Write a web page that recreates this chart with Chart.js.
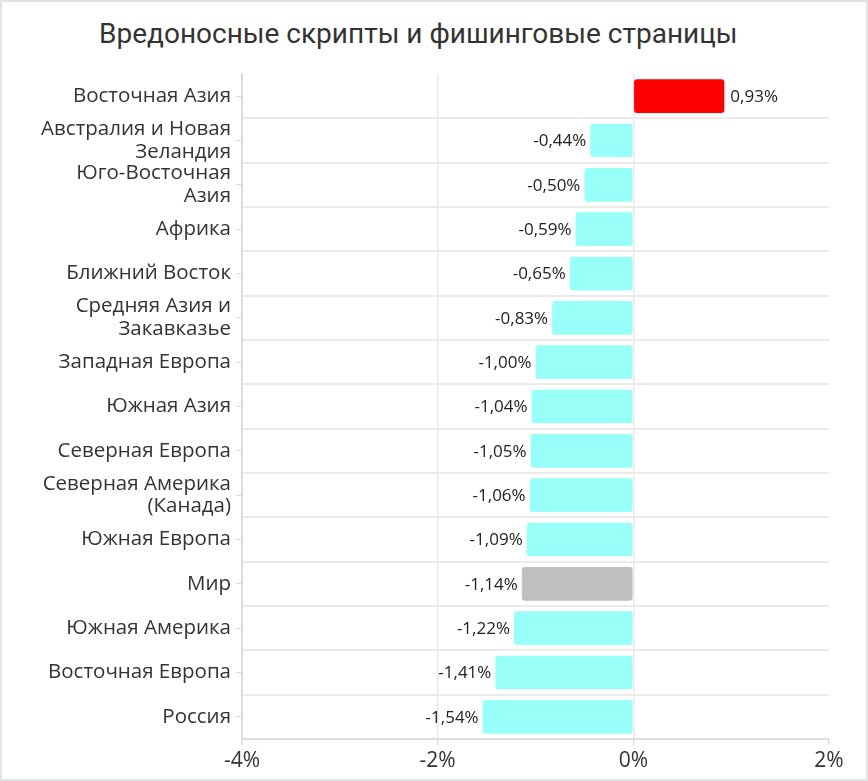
<!DOCTYPE html>
<html>
<head>
<meta charset="utf-8">
<script src="https://cdn.jsdelivr.net/npm/chart.js@4.4.1/dist/chart.umd.min.js"></script>
<style>
    html, body { margin: 0; padding: 0; background: #fff; }
    #wrap { position: relative; width: 868px; height: 781px; box-sizing: border-box; border: 2px solid #e3e3e3; }
    #titulo { position: absolute; left: 97px; top: 15px; font-family: Roboto, sans-serif; font-size: 28px; color: #333; white-space: nowrap; }
    #chartBar { position: absolute; left: 0; top: 0; }
</style>
</head>
<body>
<div id="wrap">
    <div id="titulo">Вредоносные скрипты и фишинговые страницы</div>
    <canvas id="chartBar" width="864" height="777"></canvas>
</div>
<script>
const regions = [
    'Восточная Азия',
    ['Австралия и Новая', 'Зеландия'],
    ['Юго-Восточная', 'Азия'],
    'Африка',
    'Ближний Восток',
    ['Средняя Азия и', 'Закавказье'],
    'Западная Европа',
    'Южная Азия',
    'Северная Европа',
    ['Северная Америка', '(Канада)'],
    'Южная Европа',
    'Мир',
    'Южная Америка',
    'Восточная Европа',
    'Россия'
];
const changes = [0.93, -0.44, -0.50, -0.59, -0.65, -0.83, -1.00, -1.04, -1.05, -1.06, -1.09, -1.14, -1.22, -1.41, -1.54];
const xTicks = [-4, -2, 0, 2];

const fmt = (v) => v.toFixed(2).replace('.', ',') + '%';

// rótulos de valor ao lado de cada barra
const rotulos = {
    id: 'rotulos',
    afterDatasetsDraw(chart) {
        const ctx = chart.ctx;
        const meta = chart.getDatasetMeta(0);
        ctx.save();
        ctx.font = '17px "Open Sans", sans-serif';
        ctx.fillStyle = '#222';
        ctx.textBaseline = 'middle';
        meta.data.forEach((bar, i) => {
            const v = changes[i];
            if (v >= 0) {
                ctx.textAlign = 'left';
                ctx.fillText(fmt(v), bar.x + 6, bar.y + 1);
            } else {
                ctx.textAlign = 'right';
                ctx.fillText(fmt(v), bar.x - 4, bar.y + 1);
            }
        });
        ctx.restore();
    }
};

document.addEventListener('DOMContentLoaded', () => {
    const cores = changes.map((v, i) => v > 0 ? '#ff0000' : (regions[i] === 'Мир' ? '#bfbfbf' : '#99fff9'));

    new Chart(document.getElementById('chartBar'), {
        type: 'bar',
        data: {
            labels: regions,
            datasets: [{
                data: changes,
                backgroundColor: cores,
                borderRadius: 3,
                borderSkipped: false,
                barPercentage: 0.76,
                categoryPercentage: 1
            }]
        },
        plugins: [rotulos],
        options: {
            indexAxis: 'y',
            responsive: false,
            animation: false,
            layout: { padding: { top: 72, right: 37, left: 0, bottom: 0 } },
            plugins: {
                legend: { display: false },
                tooltip: { enabled: false }
            },
            scales: {
                x: {
                    min: -4, max: 2,
                    afterBuildTicks: (s) => { s.ticks = xTicks.map(v => ({ value: v })); },
                    afterFit: (s) => { s.height = 40; },
                    grid: {
                        color: (c) => (c.tick && c.tick.value === 2) ? 'rgba(0,0,0,0)' : '#e8e8e8',
                        tickColor: '#dcdcdc',
                        lineWidth: 1.5,
                        tickLength: 6
                    },
                    border: { color: '#dcdcdc', width: 2 },
                    ticks: {
                        color: '#333',
                        font: { family: '"Open Sans", sans-serif', size: 21 },
                        padding: 3,
                        callback: (v) => v + '%'
                    }
                },
                y: {
                    afterFit: (s) => { s.width = 240; },
                    grid: { drawOnChartArea: false, tickColor: '#dcdcdc', tickLength: 6, offset: false },
                    border: { color: '#dcdcdc', width: 2 },
                    ticks: {
                        autoSkip: false,
                        color: '#333',
                        font: { family: '"Open Sans", sans-serif', size: 20.5, lineHeight: 1.12 },
                        padding: 5
                    }
                },
                yGrade: {
                    type: 'category',
                    position: 'left',
                    labels: regions,
                    afterFit: (s) => { s.width = 0; },
                    border: { display: false },
                    ticks: { display: false },
                    grid: {
                        offset: true,
                        drawTicks: false,
                        lineWidth: 2,
                        color: (c) => c.index === 0 ? 'rgba(0,0,0,0)' : '#ebebeb'
                    }
                }
            }
        }
    });
});
</script>
</body>
</html>
